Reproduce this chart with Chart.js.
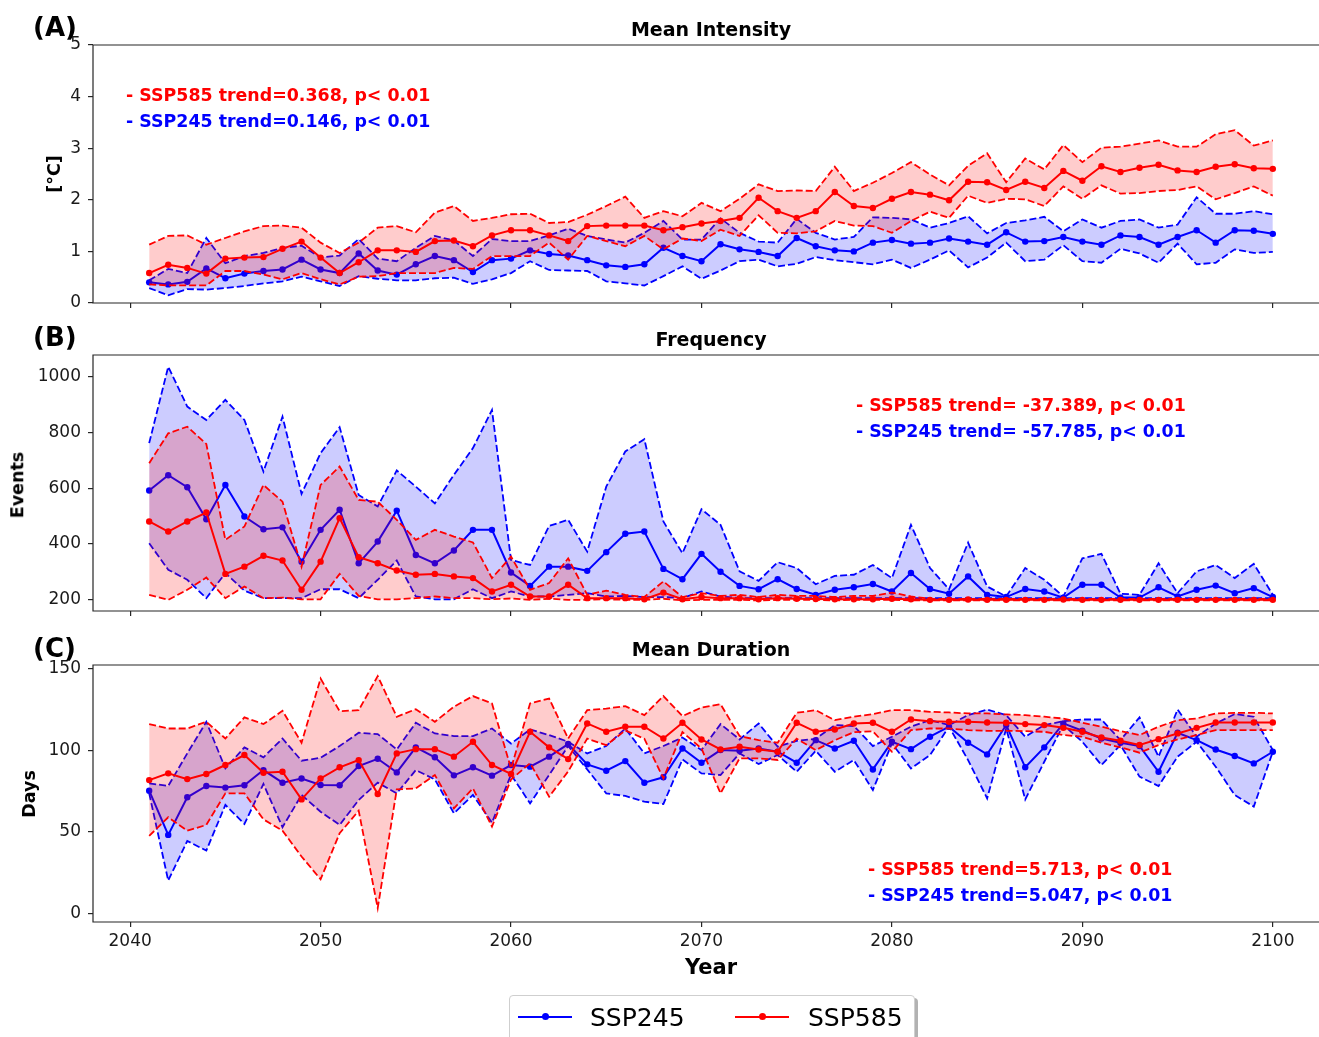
<!DOCTYPE html>
<html>
<head>
<meta charset="utf-8">
<title>Mean Intensity / Frequency / Mean Duration</title>
<script src="https://cdn.jsdelivr.net/npm/chart.js"></script>
<style>
  html, body { margin: 0; padding: 0; background: #fff; }
  body { width: 1319px; height: 1037px; overflow: hidden; position: relative; font-family: "DejaVu Sans", sans-serif; color: #000; }
  #plots { position: absolute; left: 0; top: 0; width: 1319px; height: 1037px; overflow: hidden; }
  canvas { position: absolute; left: 0; }
  .txt { position: absolute; white-space: nowrap; line-height: 1; }
  .tag { font-weight: bold; font-size: 26px; transform: translateY(-50%); }
  .title { font-weight: bold; font-size: 19px; transform: translate(-50%, -50%); }
  .ylab { font-weight: bold; font-size: 17.5px; transform: translate(-50%, -50%) rotate(-90deg); }
  .xlab { font-weight: bold; font-size: 21px; transform: translate(-50%, -50%); }
  .note { font-weight: bold; font-size: 17.4px; transform: translateY(-50%); }
  .red { color: #ff0000; }
  .blue { color: #0000ff; }
  #legend { position: absolute; left: 509px; top: 995px; width: 404px; height: 52px; border: 1px solid #cfcfcf; border-radius: 4px; background: #fff; box-shadow: 3px 3px 0 rgba(0,0,0,0.3); }
  .lg-line { position: absolute; height: 2px; top: 20px; width: 54px; }
  .lg-dot { position: absolute; width: 7px; height: 7px; border-radius: 50%; top: 17px; }
  .lg-txt { position: absolute; top: 21px; font-size: 25px; transform: translateY(-50%); line-height: 1; }
</style>
</head>
<body>

<div id="plots">
  <canvas id="panelA" width="1345" height="302" style="top:23px"></canvas>
  <canvas id="panelB" width="1345" height="300" style="top:333px"></canvas>
  <canvas id="panelC" width="1345" height="319" style="top:643px"></canvas>
</div>

<div class="txt tag" style="left:33px; top:27px">(A)</div>
<div class="txt title" style="left:711px; top:29px">Mean Intensity</div>
<div class="txt ylab" style="left:55px; top:174px">[°C]</div>
<div class="txt note red" style="left:126px; top:96px">- SSP585 trend=0.368, p&lt; 0.01</div>
<div class="txt note blue" style="left:126px; top:122px">- SSP245 trend=0.146, p&lt; 0.01</div>

<div class="txt tag" style="left:33px; top:337px">(B)</div>
<div class="txt title" style="left:711px; top:339px">Frequency</div>
<div class="txt ylab" style="left:18px; top:485px">Events</div>
<div class="txt note red" style="left:856px; top:406px">- SSP585 trend= -37.389, p&lt; 0.01</div>
<div class="txt note blue" style="left:856px; top:432px">- SSP245 trend= -57.785, p&lt; 0.01</div>

<div class="txt tag" style="left:33px; top:648px">(C)</div>
<div class="txt title" style="left:711px; top:649px">Mean Duration</div>
<div class="txt ylab" style="left:30px; top:794px">Days</div>
<div class="txt note red" style="left:868px; top:870px">- SSP585 trend=5.713, p&lt; 0.01</div>
<div class="txt note blue" style="left:868px; top:896px">- SSP245 trend=5.047, p&lt; 0.01</div>

<div class="txt xlab" style="left:711px; top:967px">Year</div>

<div id="legend">
  <div class="lg-line" style="left:8px; background:#0000ff"></div>
  <div class="lg-dot" style="left:32px; background:#0000ff"></div>
  <div class="lg-txt" style="left:80px">SSP245</div>
  <div class="lg-line" style="left:225px; background:#ff0000"></div>
  <div class="lg-dot" style="left:249px; background:#ff0000"></div>
  <div class="lg-txt" style="left:298px">SSP585</div>
</div>

<script>
// ======================
// Data
// ======================
const years = [
  2041, 2042, 2043, 2044, 2045, 2046, 2047, 2048, 2049, 2050,
  2051, 2052, 2053, 2054, 2055, 2056, 2057, 2058, 2059, 2060,
  2061, 2062, 2063, 2064, 2065, 2066, 2067, 2068, 2069, 2070,
  2071, 2072, 2073, 2074, 2075, 2076, 2077, 2078, 2079, 2080,
  2081, 2082, 2083, 2084, 2085, 2086, 2087, 2088, 2089, 2090,
  2091, 2092, 2093, 2094, 2095, 2096, 2097, 2098, 2099, 2100
];
const yearTicks = [2040, 2050, 2060, 2070, 2080, 2090, 2100];

// (A) Mean Intensity, °C
const intensityTicks = [0, 1, 2, 3, 4, 5];
const intensity585Mean = [
  0.58, 0.74, 0.68, 0.57, 0.86, 0.88, 0.89, 1.05, 1.19, 0.88,
  0.58, 0.79, 1.02, 1.02, 0.99, 1.20, 1.21, 1.10, 1.31, 1.41,
  1.41, 1.31, 1.20, 1.49, 1.50, 1.50, 1.50, 1.41, 1.47, 1.54,
  1.59, 1.65, 2.04, 1.78, 1.65, 1.78, 2.15, 1.88, 1.84, 2.02,
  2.15, 2.10, 1.99, 2.35, 2.34, 2.19, 2.35, 2.23, 2.56, 2.37,
  2.65, 2.54, 2.62, 2.68, 2.57, 2.54, 2.64, 2.69, 2.61, 2.60
];
const intensity585Upper = [
  1.13, 1.30, 1.31, 1.13, 1.26, 1.39, 1.49, 1.50, 1.46, 1.17,
  0.97, 1.17, 1.46, 1.49, 1.37, 1.75, 1.88, 1.59, 1.65, 1.72,
  1.73, 1.55, 1.57, 1.71, 1.88, 2.06, 1.65, 1.78, 1.68, 1.94,
  1.78, 2.02, 2.30, 2.17, 2.18, 2.17, 2.64, 2.17, 2.33, 2.52,
  2.73, 2.49, 2.28, 2.66, 2.90, 2.34, 2.80, 2.59, 3.06, 2.73,
  3.01, 3.03, 3.09, 3.15, 3.03, 3.03, 3.27, 3.35, 3.05, 3.15
];
const intensity585Lower = [
  0.36, 0.34, 0.34, 0.34, 0.62, 0.62, 0.55, 0.46, 0.58, 0.46,
  0.36, 0.51, 0.52, 0.58, 0.58, 0.58, 0.68, 0.66, 0.91, 0.91,
  0.91, 1.17, 0.84, 1.30, 1.20, 1.10, 1.30, 1.04, 1.25, 1.20,
  1.42, 1.30, 1.70, 1.36, 1.35, 1.39, 1.59, 1.50, 1.49, 1.36,
  1.59, 1.77, 1.65, 2.08, 1.94, 2.02, 2.01, 1.88, 2.26, 2.02,
  2.28, 2.12, 2.13, 2.17, 2.19, 2.26, 2.01, 2.13, 2.26, 2.08
];
const intensity245Mean = [
  0.40, 0.36, 0.41, 0.67, 0.48, 0.57, 0.62, 0.65, 0.84, 0.65,
  0.58, 0.96, 0.63, 0.55, 0.75, 0.91, 0.83, 0.60, 0.83, 0.86,
  1.02, 0.95, 0.92, 0.83, 0.73, 0.70, 0.75, 1.07, 0.91, 0.81,
  1.14, 1.04, 0.99, 0.91, 1.26, 1.10, 1.02, 1.00, 1.17, 1.22,
  1.15, 1.17, 1.25, 1.19, 1.13, 1.37, 1.19, 1.20, 1.28, 1.19,
  1.13, 1.31, 1.28, 1.13, 1.28, 1.41, 1.17, 1.41, 1.40, 1.34
];
const intensity245Upper = [
  0.44, 0.66, 0.58, 1.26, 0.77, 0.91, 0.97, 1.07, 1.11, 0.88,
  0.92, 1.24, 0.86, 0.81, 1.07, 1.30, 1.21, 0.91, 1.24, 1.20,
  1.20, 1.31, 1.44, 1.30, 1.23, 1.17, 1.36, 1.59, 1.23, 1.23,
  1.64, 1.36, 1.19, 1.17, 1.63, 1.36, 1.23, 1.28, 1.66, 1.65,
  1.62, 1.46, 1.55, 1.68, 1.35, 1.55, 1.60, 1.67, 1.39, 1.62,
  1.46, 1.59, 1.62, 1.46, 1.52, 2.05, 1.73, 1.73, 1.78, 1.72
];
const intensity245Lower = [
  0.29, 0.15, 0.27, 0.26, 0.29, 0.33, 0.38, 0.42, 0.51, 0.42,
  0.33, 0.52, 0.47, 0.44, 0.44, 0.48, 0.49, 0.37, 0.46, 0.58,
  0.81, 0.64, 0.63, 0.62, 0.42, 0.38, 0.34, 0.52, 0.71, 0.47,
  0.63, 0.81, 0.84, 0.71, 0.76, 0.89, 0.83, 0.79, 0.75, 0.84,
  0.68, 0.84, 1.02, 0.69, 0.88, 1.17, 0.81, 0.84, 1.12, 0.81,
  0.78, 1.05, 0.96, 0.78, 1.15, 0.75, 0.78, 1.04, 0.97, 0.99
];

// (B) Frequency, events
const eventTicks = [200, 400, 600, 800, 1000];
const events585Mean = [
  481, 445, 481, 513, 293, 319, 358, 341, 236, 337,
  493, 353, 331, 305, 290, 293, 284, 278, 230, 254,
  212, 212, 254, 206, 206, 206, 202, 226, 202, 210,
  206, 206, 202, 206, 204, 203, 202, 202, 202, 204,
  202, 200, 200, 201, 200, 200, 200, 200, 201, 200,
  200, 200, 200, 200, 200, 200, 200, 200, 200, 200
];
const events585Upper = [
  690, 797, 821, 759, 415, 463, 612, 552, 319, 612,
  678, 558, 552, 487, 415, 451, 427, 406, 278, 355,
  236, 260, 349, 218, 233, 218, 210, 266, 210, 224,
  214, 218, 210, 218, 214, 214, 210, 214, 214, 226,
  212, 204, 203, 203, 203, 203, 203, 203, 203, 203,
  203, 203, 203, 203, 203, 203, 203, 203, 203, 203
];
const events585Lower = [
  218, 200, 236, 280, 206, 248, 206, 208, 202, 202,
  293, 214, 202, 202, 206, 212, 206, 206, 202, 205,
  200, 204, 200, 200, 202, 200, 200, 204, 198, 200,
  200, 200, 198, 200, 200, 200, 198, 200, 200, 200,
  198, 198, 198, 198, 198, 198, 198, 198, 198, 198,
  198, 198, 198, 198, 198, 198, 198, 198, 198, 198
];
const events245Mean = [
  592, 647, 604, 489, 612, 499, 453, 460, 337, 451,
  523, 331, 409, 520, 361, 331, 377, 451, 451, 298,
  250, 319, 319, 304, 371, 437, 445, 311, 274, 365,
  301, 250, 238, 274, 239, 218, 236, 245, 257, 230,
  296, 239, 222, 284, 218, 210, 239, 230, 208, 254,
  254, 208, 208, 245, 212, 236, 251, 224, 242, 210
];
const events245Upper = [
  762, 1036, 893, 845, 917, 845, 660, 857, 580, 726,
  819, 576, 535, 664, 606, 546, 648, 744, 881, 343,
  325, 465, 487, 373, 606, 732, 776, 481, 367, 525,
  469, 302, 268, 335, 314, 256, 286, 290, 325, 278,
  469, 314, 238, 405, 248, 212, 314, 272, 212, 349,
  365, 222, 218, 331, 224, 302, 325, 278, 329, 218
];
const events245Lower = [
  403, 308, 272, 206, 296, 233, 206, 206, 206, 238,
  238, 206, 272, 341, 212, 202, 202, 238, 206, 230,
  212, 212, 218, 224, 212, 214, 210, 210, 206, 230,
  212, 206, 206, 206, 206, 206, 206, 206, 206, 206,
  206, 206, 206, 206, 206, 206, 206, 206, 206, 206,
  206, 206, 206, 206, 206, 206, 206, 206, 206, 206
];

// (C) Mean Duration, days
const dayTicks = [0, 50, 100, 150];
const duration585Mean = [
  81.7, 85.8, 82.3, 85.4, 90.9, 97.0, 86.2, 86.8, 69.9, 82.7,
  89.5, 93.9, 73.2, 98.0, 100.6, 100.6, 96.0, 105.1, 90.9, 85.4,
  111.2, 101.7, 94.5, 116.3, 111.2, 114.3, 114.3, 107.1, 116.7, 106.5,
  100.4, 102.1, 100.4, 99.0, 116.7, 111.2, 112.6, 116.3, 116.7, 111.2,
  118.7, 117.7, 117.3, 117.3, 116.9, 116.7, 115.9, 115.3, 113.6, 111.2,
  107.7, 105.7, 103.1, 106.7, 110.2, 113.6, 116.9, 116.9, 116.9, 116.9
];
const duration585Upper = [
  115.9, 113.2, 113.2, 117.3, 107.1, 120.0, 115.9, 124.0, 104.5, 143.7,
  123.8, 124.4, 145.2, 120.4, 125.0, 117.3, 126.5, 133.0, 128.5, 88.8,
  128.5, 131.5, 107.1, 124.4, 125.4, 126.9, 121.4, 133.0, 120.8, 126.0,
  128.1, 108.6, 106.1, 104.5, 122.8, 124.4, 118.3, 120.4, 122.0, 124.4,
  124.4, 123.4, 123.0, 122.4, 122.4, 121.8, 121.4, 120.4, 119.3, 116.7,
  114.3, 111.6, 109.2, 114.3, 118.3, 119.3, 122.4, 122.8, 122.8, 122.4
];
const duration585Lower = [
  47.6, 59.0, 50.8, 54.3, 73.6, 73.6, 57.7, 50.8, 35.0, 21.1,
  49.2, 63.0, 3.5, 76.0, 76.6, 84.8, 64.4, 76.6, 53.3, 82.0,
  92.0, 71.6, 87.0, 107.0, 103.0, 112.0, 107.0, 82.7, 111.0, 101.0,
  73.6, 95.0, 95.0, 94.0, 107.0, 100.0, 106.0, 111.0, 111.5, 99.0,
  112.2, 113.2, 113.2, 112.2, 111.8, 111.8, 111.6, 111.2, 109.2, 108.2,
  104.5, 101.7, 98.4, 103.1, 106.5, 109.2, 112.2, 112.2, 112.2, 112.2
];
const duration245Mean = [
  75.2, 48.2, 71.2, 78.1, 77.1, 78.5, 87.8, 80.1, 82.7, 78.7,
  78.5, 90.3, 94.7, 86.4, 101.7, 95.6, 84.6, 89.5, 84.4, 90.9,
  89.9, 96.0, 103.7, 91.3, 87.4, 93.3, 80.1, 83.4, 101.0, 92.3,
  100.0, 99.6, 101.0, 99.0, 92.3, 106.1, 101.0, 105.7, 88.2, 105.1,
  100.6, 108.2, 114.3, 104.5, 97.4, 115.3, 89.5, 101.7, 116.3, 111.8,
  107.1, 104.5, 102.5, 86.8, 110.6, 106.1, 100.4, 96.4, 91.9, 99.0
];
const duration245Upper = [
  79.7, 78.1, 98.0, 117.3, 88.8, 101.7, 95.6, 107.1, 93.5, 95.3,
  102.5, 110.6, 109.8, 100.4, 116.7, 110.2, 108.6, 108.6, 113.2, 104.0,
  112.6, 109.2, 105.1, 98.0, 102.5, 113.2, 98.0, 102.5, 107.7, 100.0,
  115.9, 106.5, 116.3, 102.1, 105.7, 106.9, 115.3, 114.7, 102.5, 108.2,
  114.3, 118.3, 115.3, 121.4, 124.8, 121.4, 108.2, 115.3, 117.7, 118.7,
  118.7, 106.1, 120.0, 96.0, 124.8, 108.2, 116.3, 122.0, 120.4, 100.0
];
const duration245Lower = [
  73.6, 20.3, 44.5, 38.6, 66.5, 54.9, 79.3, 52.9, 72.6, 62.4,
  54.3, 69.5, 80.1, 73.6, 87.8, 82.1, 61.4, 72.6, 55.7, 85.0,
  67.5, 84.8, 102.5, 88.2, 73.6, 72.0, 68.5, 67.1, 94.3, 85.8,
  84.8, 98.0, 91.5, 97.0, 86.8, 99.6, 86.8, 93.9, 75.6, 104.1,
  88.8, 97.0, 114.3, 93.9, 70.5, 113.2, 69.9, 92.9, 115.3, 105.1,
  90.9, 103.1, 83.8, 78.1, 96.0, 105.1, 89.9, 72.6, 65.5, 99.0
];

// ======================
// Helpers
// ======================
const RED = "#ff0000";
const BLUE = "#0000ff";
const AXIS = "#262626";
const FONT = "'DejaVu Sans', sans-serif";

const toPoints = vals => years.map((yr, i) => ({ x: yr, y: vals[i] }));

function scenario(color, fillColor, mean, upper, lower) {
  return [
    {
      data: toPoints(mean), borderColor: color, backgroundColor: color,
      borderWidth: 2, pointRadius: 3.2, pointBorderWidth: 0,
      pointBackgroundColor: color, fill: false
    },
    {
      data: toPoints(upper), borderColor: color, borderWidth: 1.8,
      borderDash: [7, 3], pointRadius: 0, fill: "+1", backgroundColor: fillColor
    },
    {
      data: toPoints(lower), borderColor: color, borderWidth: 1.8,
      borderDash: [7, 3], pointRadius: 0, fill: false
    }
  ];
}

// left, top and bottom spines (the right one sits past the window edge)
const frame = {
  id: "frame",
  afterDraw(chart) {
    const { ctx, chartArea: a } = chart;
    ctx.save();
    ctx.strokeStyle = AXIS;
    ctx.lineWidth = 1.2;
    ctx.beginPath();
    ctx.moveTo(chart.width, a.top);
    ctx.lineTo(a.left, a.top);
    ctx.lineTo(a.left, a.bottom);
    ctx.lineTo(chart.width, a.bottom);
    ctx.stroke();
    ctx.restore();
  }
};

function makePanel(id, opts) {
  const tickFont = { family: FONT, size: 17 };
  new Chart(document.getElementById(id), {
    type: "line",
    data: {
      datasets: [
        ...scenario(RED, "rgba(255,0,0,0.2)", opts.ssp585[0], opts.ssp585[1], opts.ssp585[2]),
        ...scenario(BLUE, "rgba(0,0,255,0.2)", opts.ssp245[0], opts.ssp245[1], opts.ssp245[2])
      ]
    },
    options: {
      responsive: false,
      animation: false,
      layout: { padding: { top: 22, right: 16, left: 0, bottom: 0 } },
      plugins: { legend: { display: false }, tooltip: { enabled: false } },
      scales: {
        x: {
          type: "linear",
          min: 2038.05,
          max: 2102.95,
          afterBuildTicks: s => { s.ticks = yearTicks.map(v => ({ value: v })); },
          afterFit: s => { s.height = opts.xHeight; },
          ticks: {
            display: opts.showYears,
            color: "#1a1a1a", font: tickFont, padding: 4, maxRotation: 0,
            callback: v => String(v)
          },
          grid: { drawOnChartArea: false, drawTicks: true, tickLength: 5, color: AXIS, lineWidth: 1.2 },
          border: { display: false }
        },
        y: {
          type: "linear",
          min: opts.yMin,
          max: opts.yMax,
          afterBuildTicks: s => { s.ticks = opts.yTicks.map(v => ({ value: v })); },
          afterFit: s => { s.width = 93; },
          ticks: { color: "#1a1a1a", font: tickFont, padding: 7, callback: v => String(v) },
          grid: { drawOnChartArea: false, drawTicks: true, tickLength: 5, color: AXIS, lineWidth: 1.2 },
          border: { display: false }
        }
      }
    },
    plugins: [frame]
  });
}

// ======================
// Panels
// ======================
document.addEventListener("DOMContentLoaded", () => {
  makePanel("panelA", {
    ssp585: [intensity585Mean, intensity585Upper, intensity585Lower],
    ssp245: [intensity245Mean, intensity245Upper, intensity245Lower],
    yMin: 0, yMax: 5, yTicks: intensityTicks, xHeight: 22, showYears: false
  });
  makePanel("panelB", {
    ssp585: [events585Mean, events585Upper, events585Lower],
    ssp245: [events245Mean, events245Upper, events245Lower],
    yMin: 160, yMax: 1078, yTicks: eventTicks, xHeight: 22, showYears: false
  });
  makePanel("panelC", {
    ssp585: [duration585Mean, duration585Upper, duration585Lower],
    ssp245: [duration245Mean, duration245Upper, duration245Lower],
    yMin: -5, yMax: 152, yTicks: dayTicks, xHeight: 40, showYears: true
  });
});
</script>
</body>
</html>
